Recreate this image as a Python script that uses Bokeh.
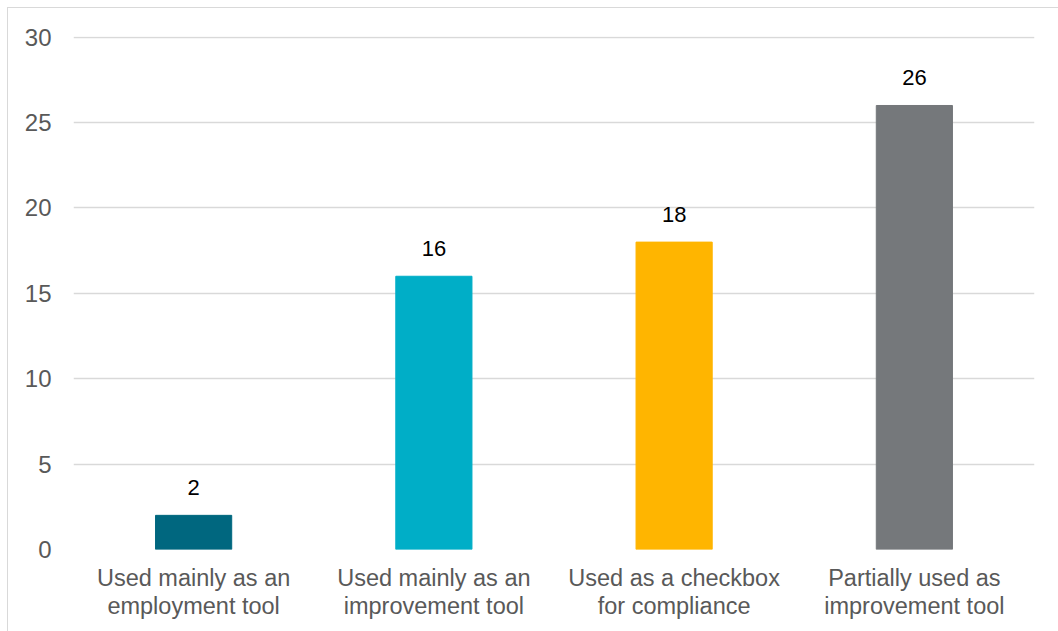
from bokeh.plotting import figure
from bokeh.models import ColumnDataSource, FixedTicker
from bokeh.embed import file_html
from bokeh.resources import INLINE
from bokeh.core.properties import value

# Survey answers: how the tool is used
categories = [
    "Used mainly as an\nemployment tool",
    "Used mainly as an\nimprovement tool",
    "Used as a checkbox\nfor compliance",
    "Partially used as\nimprovement tool",
]
counts = [2, 16, 18, 26]
bar_colors = ["#00677F", "#00AEC7", "#FFB500", "#75787B"]
y_ticks = [0, 5, 10, 15, 20, 25, 30]

FONT = "Liberation Sans"

source = ColumnDataSource(dict(
    cat=categories,
    count=counts,
    color=bar_colors,
    label=[str(c) for c in counts],
))

p = figure(
    x_range=categories,
    y_range=(0, 30.04),
    width=1051,
    height=624,
    margin=(7, 0, 0, 7),
    output_backend="svg",
    toolbar_location=None,
    min_border_left=65,
    min_border_right=25,
    min_border_top=28,
    min_border_bottom=83,
    styles={"border-left": "1px solid #D9D9D9", "border-top": "1px solid #D9D9D9",
            "box-sizing": "border-box"},
)
p.outline_line_color = None
p.background_fill_color = "white"

p.vbar(x="cat", top="count", width=0.317, color="color", source=source)

p.text(x="cat", y="count", text="label", source=source,
       text_align="center", text_baseline="alphabetic", y_offset=-28,
       text_font=value(FONT), text_font_size="22px", text_color="#000000")

# Axes
p.yaxis.ticker = FixedTicker(ticks=y_ticks)
p.yaxis.axis_line_color = None
p.yaxis.major_tick_line_color = None
p.yaxis.minor_tick_line_color = None
p.yaxis.major_label_standoff = 16
p.yaxis.major_label_text_font = FONT
p.yaxis.major_label_text_font_size = "24px"
p.yaxis.major_label_text_color = "#595959"

p.xaxis.axis_line_color = None
p.xaxis.major_tick_line_color = None
p.xaxis.major_label_standoff = 9
p.xaxis.major_label_text_font = FONT
p.xaxis.major_label_text_font_size = "23.5px"
p.xaxis.major_label_text_color = "#595959"
p.xaxis.major_label_text_line_height = 1.1

p.xgrid.grid_line_color = None
p.ygrid.grid_line_color = "#D9D9D9"
p.ygrid.grid_line_width = 1.5

p.x_range.range_padding = 0

open("out.html", "w").write(file_html(p, INLINE))
